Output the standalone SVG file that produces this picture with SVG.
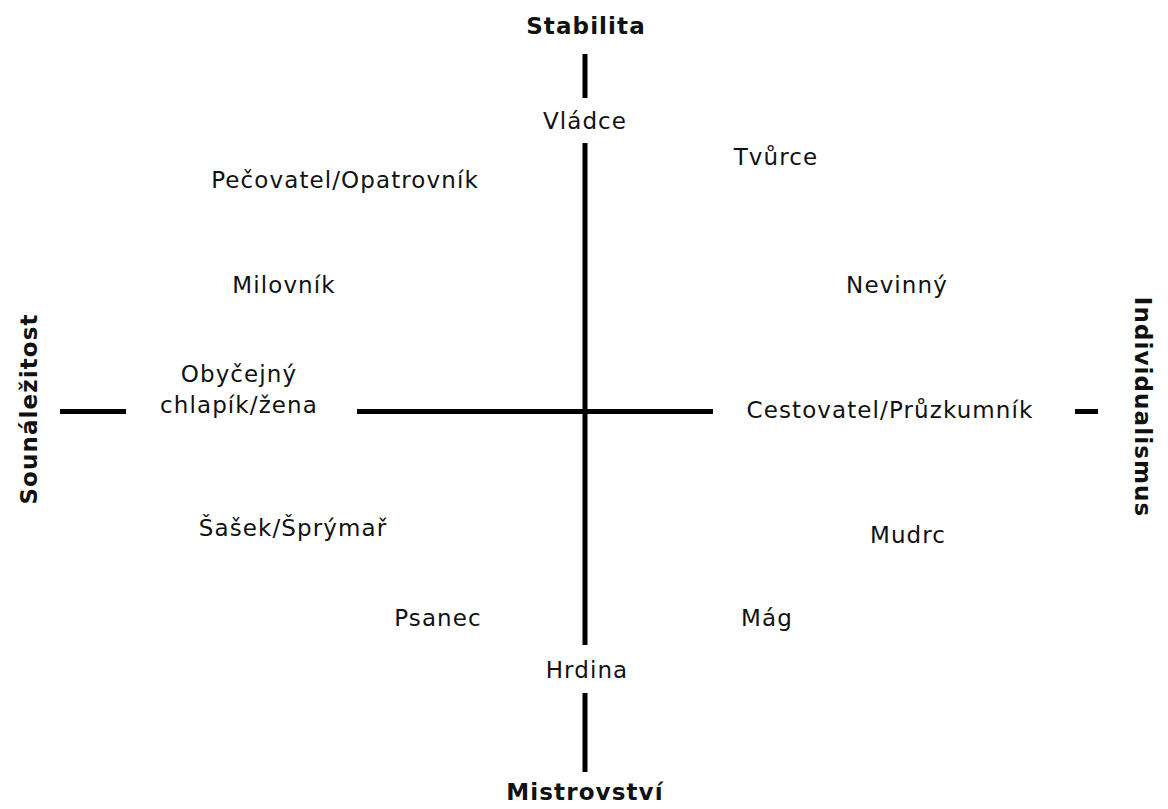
<svg xmlns="http://www.w3.org/2000/svg" width="1168" height="809" viewBox="0 0 1168 809">
  <style>
    .lbl { font-family: "DejaVu Sans", Verdana, sans-serif; font-size: 23px; letter-spacing: 1.1px; fill: #111; text-anchor: middle; }
    .axis { font-weight: bold; }
    .ax { stroke: #000; stroke-width: 5; fill: none; }
  </style>
  <rect width="1168" height="809" fill="#fff"/>

  <!-- axis segments -->
  <g id="connectors">
    <line class="ax" x1="585" y1="54" x2="585" y2="98"/>
    <line class="ax" x1="585" y1="143" x2="585" y2="645"/>
    <line class="ax" x1="585" y1="693" x2="585" y2="772"/>
    <line class="ax" x1="60" y1="411.5" x2="126" y2="411.5"/>
    <line class="ax" x1="357" y1="411.5" x2="713" y2="411.5"/>
    <line class="ax" x1="1075" y1="411.5" x2="1098" y2="411.5"/>
  </g>

  <!-- axis poles -->
  <g id="stabilita"><text class="lbl axis" x="586" y="34">Stabilita</text></g>
  <g id="mistrovstvi"><text class="lbl axis" x="585" y="800">Mistrovství</text></g>
  <g id="sounalezitost"><text class="lbl axis" transform="translate(37 409) rotate(-90)">Sounáležitost</text></g>
  <g id="individualismus"><text class="lbl axis" transform="translate(1135 407) rotate(90)">Individualismus</text></g>

  <!-- archetypes -->
  <g id="vladce"><text class="lbl" x="585" y="129">Vládce</text></g>
  <g id="tvurce"><text class="lbl" x="776" y="165">Tvůrce</text></g>
  <g id="pecovatel"><text class="lbl" x="345" y="188">Pečovatel/Opatrovník</text></g>
  <g id="milovnik"><text class="lbl" x="284" y="293">Milovník</text></g>
  <g id="nevinny"><text class="lbl" x="897" y="293">Nevinný</text></g>
  <g id="obycejny">
    <text class="lbl" x="239" y="382">Obyčejný</text>
    <text class="lbl" x="239" y="413">chlapík/žena</text>
  </g>
  <g id="cestovatel"><text class="lbl" x="890" y="418">Cestovatel/Průzkumník</text></g>
  <g id="sasek"><text class="lbl" x="293" y="536">Šašek/Šprýmař</text></g>
  <g id="mudrc"><text class="lbl" x="908" y="543">Mudrc</text></g>
  <g id="psanec"><text class="lbl" x="438" y="626">Psanec</text></g>
  <g id="mag"><text class="lbl" x="767" y="626">Mág</text></g>
  <g id="hrdina"><text class="lbl" x="587" y="678">Hrdina</text></g>
</svg>
